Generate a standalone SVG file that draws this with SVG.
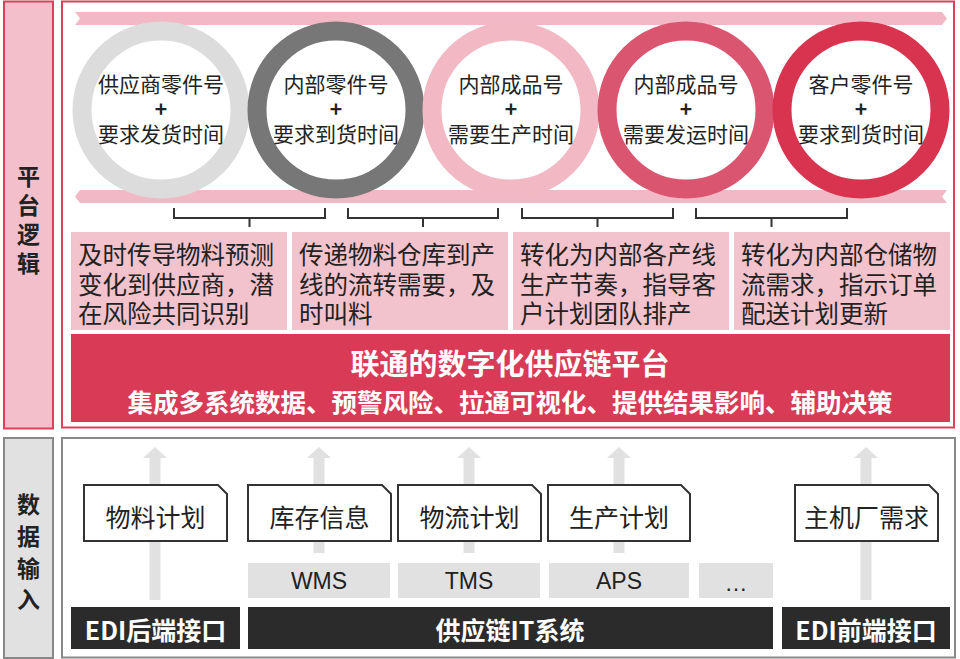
<svg xmlns="http://www.w3.org/2000/svg" width="960" height="659" viewBox="0 0 960 659">
<style>
text{font-family:"Noto Sans CJK SC","Liberation Sans",sans-serif;}
.ct{font-size:21px;fill:#222;text-anchor:middle;dominant-baseline:central;}
.bt{font-size:24.5px;fill:#222;dominant-baseline:central;}
.lab{font-size:23px;font-weight:bold;fill:#222;text-anchor:middle;dominant-baseline:central;}
.wt{fill:#fff;font-weight:bold;text-anchor:middle;dominant-baseline:central;}
.dt{font-size:25px;fill:#222;text-anchor:middle;dominant-baseline:central;}
.st{font-family:"Liberation Sans",Arial,sans-serif;font-size:23px;fill:#222;text-anchor:middle;dominant-baseline:central;}
.doc{fill:#fff;stroke:#333;stroke-width:2;}
.sys{fill:#e1e1e1;}
.bar{fill:#2b2b2b;}
.pbox{fill:#f3c3cd;}
.ring{fill:none;stroke-width:19;}
.br{fill:none;stroke:#333;stroke-width:2;}
.arr{fill:#e1e1e1;}
</style>

<!-- top section -->
<g id="label-platform">
<rect x="4" y="1.5" width="49" height="427" fill="#f2bfcb" stroke="#d9415a" stroke-width="2"/>
<text class="lab" x="28.5" y="175">平</text>
<text class="lab" x="28.5" y="204">台</text>
<text class="lab" x="28.5" y="233">逻</text>
<text class="lab" x="28.5" y="262">辑</text>
</g>
<rect id="top-frame" x="62" y="1.5" width="892" height="426" fill="#fff" stroke="#d9415a" stroke-width="2"/>

<g id="bands">
<polygon points="75,12 942,12 947,18.5 942,25 75,25 80,18.5" fill="#f2b8c5"/>
<polygon points="80,190 947,190 942,196.5 947,203 80,203 75,196.5" fill="#f2b8c5"/>
</g>

<g id="circle1"><circle class="ring" cx="161" cy="110" r="79" stroke="#dcdcdc"/>
<text class="ct" x="161" y="83">供应商零件号</text><text class="ct" x="161" y="108" font-weight="bold">+</text><text class="ct" x="161" y="133">要求发货时间</text></g>
<g id="circle2"><circle class="ring" cx="336" cy="110" r="79" stroke="#777"/>
<text class="ct" x="336" y="83">内部零件号</text><text class="ct" x="336" y="108" font-weight="bold">+</text><text class="ct" x="336" y="133">要求到货时间</text></g>
<g id="circle3"><circle class="ring" cx="511" cy="110" r="79" stroke="#f2b9c5"/>
<text class="ct" x="511" y="83">内部成品号</text><text class="ct" x="511" y="108" font-weight="bold">+</text><text class="ct" x="511" y="133">需要生产时间</text></g>
<g id="circle4"><circle class="ring" cx="686" cy="110" r="79" stroke="#da5670"/>
<text class="ct" x="686" y="83">内部成品号</text><text class="ct" x="686" y="108" font-weight="bold">+</text><text class="ct" x="686" y="133">需要发运时间</text></g>
<g id="circle5"><circle class="ring" cx="861" cy="110" r="79" stroke="#d8334f"/>
<text class="ct" x="861" y="83">客户零件号</text><text class="ct" x="861" y="108" font-weight="bold">+</text><text class="ct" x="861" y="133">要求到货时间</text></g>

<g id="connectors">
<path class="br" d="M174,208 V218 H325 V208 M249.5,218 V227"/>
<path class="br" d="M348,208 V218 H498 V208 M423,218 V227"/>
<path class="br" d="M522,208 V218 H673 V208 M597.5,218 V227"/>
<path class="br" d="M696,208 V218 H847 V208 M771.5,218 V227"/>
<path class="arr" d="M149.5,600 V458 H143 L155,447 L167,458 H160.5 V600 Z"/>
<path class="arr" d="M313.5,553 V458 H307 L319,447 L331,458 H324.5 V553 Z"/>
<path class="arr" d="M463.5,553 V458 H457 L469,447 L481,458 H474.5 V553 Z"/>
<path class="arr" d="M613.5,553 V458 H607 L619,447 L631,458 H624.5 V553 Z"/>
<path class="arr" d="M860.5,600 V458 H854 L866,447 L878,458 H871.5 V600 Z"/>
</g>

<g id="box1"><rect class="pbox" x="71" y="232" width="216" height="98"/>
<text class="bt" x="78" y="253.5">及时传导物料预测</text><text class="bt" x="78" y="283">变化到供应商，潜</text><text class="bt" x="78" y="312">在风险共同识别</text></g>
<g id="box2"><rect class="pbox" x="292" y="232" width="216" height="98"/>
<text class="bt" x="299" y="253.5">传递物料仓库到产</text><text class="bt" x="299" y="283">线的流转需要，及</text><text class="bt" x="299" y="312">时叫料</text></g>
<g id="box3"><rect class="pbox" x="513" y="232" width="216" height="98"/>
<text class="bt" x="520" y="253.5">转化为内部各产线</text><text class="bt" x="520" y="283">生产节奏，指导客</text><text class="bt" x="520" y="312">户计划团队排产</text></g>
<g id="box4"><rect class="pbox" x="734" y="232" width="216" height="98"/>
<text class="bt" x="741" y="253.5">转化为内部仓储物</text><text class="bt" x="741" y="283">流需求，指示订单</text><text class="bt" x="741" y="312">配送计划更新</text></g>

<g id="platform"><rect x="71" y="334" width="879" height="88" fill="#d93a56"/>
<text class="wt" x="510" y="362" font-size="29">联通的数字化供应链平台</text>
<text class="wt" x="510" y="400" font-size="25.5">集成多系统数据、预警风险、拉通可视化、提供结果影响、辅助决策</text></g>

<!-- bottom section -->
<g id="label-data">
<rect x="4" y="438" width="49" height="220" fill="#e1e1e1" stroke="#888" stroke-width="2"/>
<text class="lab" x="28.5" y="503">数</text>
<text class="lab" x="28.5" y="535">据</text>
<text class="lab" x="28.5" y="567">输</text>
<text class="lab" x="28.5" y="598">入</text>
</g>
<rect id="bottom-frame" x="62" y="438" width="893" height="219.5" fill="none" stroke="#888" stroke-width="2"/>

<g id="doc1"><path class="doc" d="M84,485 H218 L227,494 V541 H84 Z"/><text class="dt" x="155.5" y="516">物料计划</text></g>
<g id="doc2"><path class="doc" d="M248,485 H382 L391,494 V541 H248 Z"/><text class="dt" x="319.5" y="516">库存信息</text></g>
<g id="doc3"><path class="doc" d="M398,485 H532 L541,494 V541 H398 Z"/><text class="dt" x="469.5" y="516">物流计划</text></g>
<g id="doc4"><path class="doc" d="M548,485 H681 L690,494 V541 H548 Z"/><text class="dt" x="619" y="516">生产计划</text></g>
<g id="doc5"><path class="doc" d="M795,485 H929 L938,494 V541 H795 Z"/><text class="dt" x="866.5" y="516">主机厂需求</text></g>

<g id="sys-wms"><rect class="sys" x="248" y="563" width="142" height="35"/><text class="st" x="319" y="581">WMS</text></g>
<g id="sys-tms"><rect class="sys" x="398" y="563" width="142" height="35"/><text class="st" x="469" y="581">TMS</text></g>
<g id="sys-aps"><rect class="sys" x="549" y="563" width="140" height="35"/><text class="st" x="619" y="581">APS</text></g>
<g id="sys-more"><rect class="sys" x="699" y="563" width="74" height="35"/><text class="st" x="736" y="583">…</text></g>

<g id="edi-back"><rect class="bar" x="71" y="607" width="169" height="42"/><text class="wt" x="155.5" y="629" font-size="25">EDI后端接口</text></g>
<g id="it-system"><rect class="bar" x="248" y="607" width="525" height="42"/><text class="wt" x="510" y="629" font-size="25">供应链IT系统</text></g>
<g id="edi-front"><rect class="bar" x="782" y="607" width="168" height="42"/><text class="wt" x="866" y="629" font-size="25">EDI前端接口</text></g>
</svg>
